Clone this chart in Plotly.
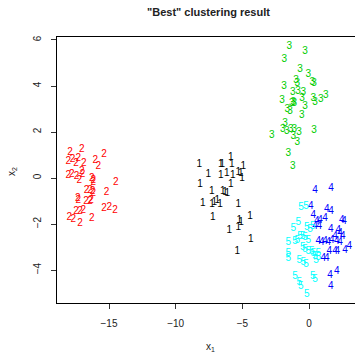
import plotly.graph_objects as go

# cluster 1 (black)
c1_x = [-5.87, -5.80, -8.23, -6.62, -6.50, -4.93, -7.55, -6.62, -6.17, -5.72, -5.30, -5.12, -5.03,
        -8.18, -5.87, -7.30, -6.47, -6.30, -6.13, -7.97, -7.28, -7.10, -6.88, -6.68, -5.30, -7.22,
        -5.23, -5.10, -4.43, -5.98, -5.30, -4.37, -5.38]
c1_y = [0.90, 0.61, 0.61, 0.61, 0.61, 0.52, 0.16, 0.13, 0.20, 0.13, 0.23, 0.20, -0.01,
        -0.30, -0.27, -0.60, -0.60, -0.64, -0.67, -1.10, -1.17, -1.07, -0.99, -1.17, -1.13, -1.71,
        -1.86, -1.94, -1.65, -2.26, -2.14, -2.67, -3.17]

# cluster 2 (red)
c2_x = [-17.05, -17.93, -15.38, -18.06, -17.73, -17.48, -17.31, -16.90, -16.03, -15.81,
        -18.06, -17.80, -17.43, -17.05, -16.98, -17.23, -16.30, -16.18, -16.18, -14.50,
        -16.68, -16.43, -16.23, -16.18, -15.18, -17.35, -17.31, -16.73, -16.43, -16.35,
        -17.48, -17.18, -16.93, -15.38, -14.98, -14.55, -17.98, -17.68, -17.18, -16.30]
c2_y = [1.25, 1.10, 1.03, 0.74, 0.81, 0.64, 0.86, 0.64, 0.78, 0.52,
        0.09, 0.17, 0.06, 0.27, 0.16, -0.12, -0.01, -0.09, -0.20, -0.20,
        -0.52, -0.52, -0.57, -0.67, -0.64, -0.88, -0.99, -1.03, -1.00, -0.99,
        -1.47, -1.47, -1.39, -1.33, -1.27, -1.42, -1.71, -1.80, -1.97, -1.75]

# cluster 3 (green)
c3_x = [-1.48, -0.30, -1.85, -0.68, -0.05, -0.98, 0.25, 0.38, -1.88, -0.88, -1.22, -0.83, -0.43,
        -0.53, -2.03, -1.30, -1.18, -1.10, -1.63, -1.43, 0.32, 0.45, 0.88, 1.25, -0.30, -0.55,
        -1.80, -1.97, -1.67, -1.37, -1.10, -0.75, -1.18, -2.80, 0.38, -0.88, -1.55, -1.22]
c3_y = [5.71, 5.49, 5.16, 4.73, 4.51, 4.26, 4.14, 4.11, 4.00, 4.11, 3.71, 3.78, 3.71,
        3.46, 3.36, 3.25, 3.27, 3.22, 2.96, 2.88, 3.46, 3.27, 3.42, 3.57, 3.13, 2.74,
        2.38, 2.09, 2.01, 2.09, 2.09, 1.97, 1.80, 1.83, 2.06, 1.53, 1.07, 0.49]

# cluster 4 (blue)
c4_x = [0.45, 1.65, 0.13, 1.33, 1.65, 0.32, 0.58, 0.83, 1.20, 0.45, 0.77, 2.45, 2.63, 1.63,
        2.20, 2.33, 2.53, 1.95, 0.70, 0.95, 1.20, 1.45, 1.70, 2.08, 2.33, 3.02, 2.70, 1.52,
        1.95, 2.12, 1.07, 1.33, 1.58, 2.08, 1.63]
c4_y = [-0.55, -0.45, -1.22, -1.36, -1.47, -1.61, -1.87, -1.83, -1.75, -2.09, -2.09, -1.83, -1.90, -2.23,
        -2.29, -2.41, -2.52, -2.55, -2.77, -2.81, -2.77, -2.81, -2.72, -2.77, -2.81, -2.96, -3.13, -3.20,
        -3.20, -3.20, -3.49, -3.49, -4.22, -4.04, -4.70]

# cluster 5 (cyan)
c5_x = [-0.60, -0.23, -0.80, -1.18, -0.17, 0.08, 0.28, -0.68, -0.47, -0.30, -0.88, -1.05, -1.55,
        -0.05, -0.47, -0.30, -0.05, 0.20, 0.32, 0.70, 0.45, 0.70, -1.55, -1.55, -0.73, -0.43,
        -0.23, 0.53, -1.05, 0.28, 0.45, -0.73, -0.62, -0.17]
c5_y = [-1.28, -1.22, -1.94, -2.19, -2.14, -2.23, -2.09, -2.55, -2.52, -2.59, -2.70, -2.77, -2.81,
        -2.70, -3.01, -3.10, -3.20, -3.20, -3.28, -3.28, -3.42, -3.45, -3.30, -3.49, -3.59, -3.68,
        -3.74, -3.59, -4.26, -4.26, -4.43, -4.55, -4.73, -5.04]

labels = ["1", "2", "3", "4", "5"]
colors = ["#000000", "#FF0000", "#00CD00", "#0000FF", "#00FFFF"]
xs = [c1_x, c2_x, c3_x, c4_x, c5_x]
ys = [c1_y, c2_y, c3_y, c4_y, c5_y]

x_ticks = [-15, -10, -5, 0]
y_ticks = [-4, -2, 0, 2, 4, 6]

FONT = "Liberation Sans, Arial, Helvetica, sans-serif"

fig = go.Figure()
for lab, col, x, y in zip(labels, colors, xs, ys):
    fig.add_trace(go.Scatter(
        x=x, y=y, mode="text", text=[lab] * len(x),
        textposition="middle center",
        textfont=dict(family=FONT, size=10, color=col),
        showlegend=False, hoverinfo="skip",
    ))

fig.update_layout(
    width=355, height=360,
    margin=dict(l=57, r=0, t=37, b=57),
    plot_bgcolor="white", paper_bgcolor="white",
    font=dict(family=FONT, size=10, color="#333333"),
    xaxis=dict(
        range=[-18.9, 3.45], tickvals=x_ticks, ticktext=["\u2212" + str(-v) if v < 0 else str(v) for v in x_ticks],
        showgrid=False, zeroline=False, showline=True, mirror=True,
        linecolor="black", linewidth=1, ticks="outside", ticklen=5, tickcolor="#333333",
        ticklabelstandoff=6, tickfont=dict(family=FONT, size=10, color="#222222"),
    ),
    yaxis=dict(
        range=[-5.43, 6.13], tickvals=y_ticks, ticktext=["\u2212" + str(-v) if v < 0 else str(v) for v in y_ticks],
        showgrid=False, zeroline=False, showline=True, mirror=False,
        linecolor="black", linewidth=1, ticks="outside", ticklen=5, tickcolor="#333333",
        tickangle=-90, ticklabelstandoff=6, tickfont=dict(family=FONT, size=10, color="#222222"),
    ),
    annotations=[
        dict(text="<b>\"Best\" clustering result</b>", xref="paper", yref="paper",
             x=0.51, y=(303 - 12) / 266, xanchor="center", yanchor="middle", showarrow=False,
             font=dict(family=FONT, size=11, color="#222222")),
        dict(text="x<sub>1</sub>", xref="paper", yref="paper",
             x=(210 - 57) / 298, y=(303 - 347) / 266, xanchor="center", yanchor="middle", showarrow=False,
             font=dict(family=FONT, size=10, color="#222222")),
        dict(text="x<sub>2</sub>", xref="paper", yref="paper",
             x=(12 - 57) / 298, y=(303 - 172) / 266, xanchor="center", yanchor="middle", showarrow=False,
             textangle=-90, font=dict(family=FONT, size=10, color="#222222")),
    ],
)

fig.write_html("out.html")
